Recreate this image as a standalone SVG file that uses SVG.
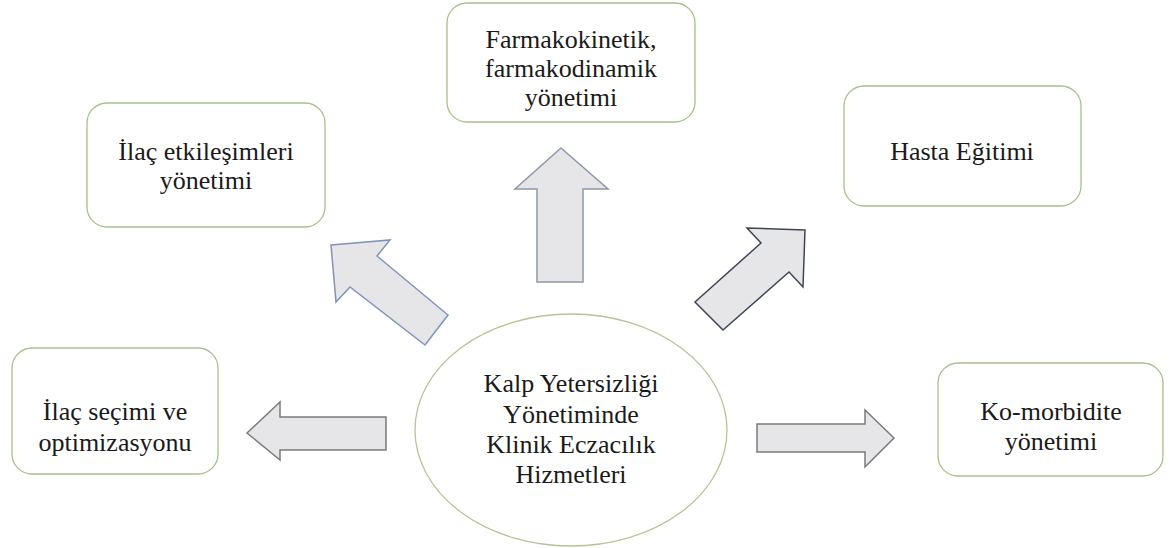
<svg xmlns="http://www.w3.org/2000/svg" width="1171" height="548" viewBox="0 0 1171 548">
<style>
.box{fill:#ffffff;stroke:#a8bf8c;stroke-width:1.3}
.t{font-family:"Liberation Serif","Times New Roman",serif;font-size:26px;fill:#1a1a1a;text-anchor:middle}
.arr{fill:#e6e6e8;stroke-width:1.5;stroke-linejoin:miter}
</style>
<rect width="1171" height="548" fill="#ffffff"/>
<g id="connectors">
<polygon class="arr" stroke="#7f93bb" points="331,245 390,240 377,256 448,315 425,345 350,287 336,302"/>
<polygon class="arr" stroke="#8d97a8" points="561,148 608,189 583,189 583,282 537,282 537,189 515,189"/>
<polygon class="arr" stroke="#3e4656" points="805,230 747,228 761,243 695,302 723,330 789,272 803,287"/>
<polygon class="arr" stroke="#7a7a7a" points="247,433 280,402 280,417 386,417 386,450 280,450 280,460"/>
<polygon class="arr" stroke="#7a7a7a" points="894,438 865,410 865,424 757,424 757,452 865,452 865,467"/>
</g>
<g id="center">
<ellipse cx="571" cy="430" rx="156" ry="116" fill="#ffffff" stroke="#b3c597" stroke-width="1.3"/>
<text class="t" x="571" y="392">Kalp Yetersizliği</text>
<text class="t" x="571" y="423">Yönetiminde</text>
<text class="t" x="571" y="453">Klinik Eczacılık</text>
<text class="t" x="571" y="483">Hizmetleri</text>
</g>
<g id="ilac-etkilesim">
<rect class="box" x="87" y="103" width="238" height="124" rx="20"/>
<text class="t" x="206" y="160">İlaç etkileşimleri</text>
<text class="t" x="206" y="189">yönetimi</text>
</g>
<g id="farmako">
<rect class="box" x="447" y="3" width="248" height="119" rx="20"/>
<text class="t" x="571" y="48">Farmakokinetik,</text>
<text class="t" x="571" y="77">farmakodinamik</text>
<text class="t" x="571" y="106">yönetimi</text>
</g>
<g id="hasta">
<rect class="box" x="844" y="86" width="237" height="120" rx="20"/>
<text class="t" x="962" y="160">Hasta Eğitimi</text>
</g>
<g id="ilac-secim">
<rect class="box" x="12" y="348" width="206" height="126" rx="20"/>
<text class="t" x="115" y="420">İlaç seçimi ve</text>
<text class="t" x="115" y="451">optimizasyonu</text>
</g>
<g id="komorbidite">
<rect class="box" x="938" y="363" width="225" height="113" rx="20"/>
<text class="t" x="1051" y="420">Ko-morbidite</text>
<text class="t" x="1051" y="450">yönetimi</text>
</g>
</svg>
